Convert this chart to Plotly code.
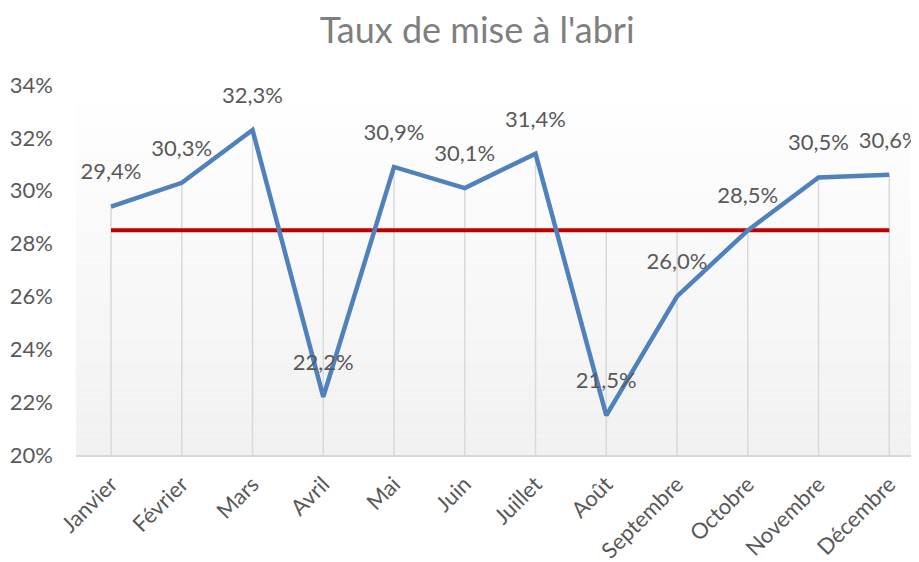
import plotly.graph_objects as go

months = ["Janvier", "Février", "Mars", "Avril", "Mai", "Juin", "Juillet",
          "Août", "Septembre", "Octobre", "Novembre", "Décembre"]
taux = [29.4, 30.3, 32.3, 22.2, 30.9, 30.1, 31.4, 21.5, 26.0, 28.5, 30.5, 30.6]
cible = [28.5] * 12
y_ticks = [20, 22, 24, 26, 28, 30, 32, 34]
y_labels = [f"{v}%" for v in y_ticks]

FONT = "Lato"
fig = go.Figure()

# background gradient (white top -> light gray bottom)
n = 60
y0, y1 = 20, 34
for i in range(n):
    t = i / (n - 1)
    c = int(round(255 - (255 - 241) * (1 - t)))
    fig.add_shape(type="rect", xref="paper", yref="y", x0=0, x1=1,
                  y0=y0 + (y1 - y0) * i / n, y1=y0 + (y1 - y0) * (i + 1) / n,
                  fillcolor=f"rgb({c},{c},{c})", line_width=0, layer="below")

# drop lines from the highest series value to the axis
dx, dy = [], []
for i, m in enumerate(months):
    dx += [m, m, None]
    dy += [max(taux[i], cible[i]), y0, None]
fig.add_trace(go.Scatter(x=dx, y=dy, mode="lines",
                         line=dict(color="#d9d9d9", width=1.5),
                         hoverinfo="skip", showlegend=False))

fig.add_trace(go.Scatter(x=months, y=cible, mode="lines",
                         line=dict(color="#c00000", width=4),
                         showlegend=False))

fig.add_trace(go.Scatter(x=months, y=taux, mode="lines+markers+text",
                         line=dict(color="#4f81bd", width=4.5),
                         marker=dict(size=33, color="rgba(0,0,0,0)"),
                         text=taux, texttemplate="%{y:.1f}%",
                         textposition="top center",
                         textfont=dict(family=FONT, size=22, color="#595959"),
                         cliponaxis=False, showlegend=False))

fig.update_layout(
    width=911, height=554,
    margin=dict(l=68, r=0, t=77, b=107),
    paper_bgcolor="white", plot_bgcolor="white",
    separators=", ",
    title=dict(text="Taux de mise à l'abri", x=0.515, xanchor="center",
               y=0.960, yanchor="middle",
               font=dict(family=FONT, size=36, color="#7f7f7f")),
    xaxis=dict(range=[-0.495, 11.42], showgrid=False, tickangle=-45,
               showline=True, linecolor="#d9d9d9", linewidth=1.5,
               tickfont=dict(family=FONT, size=22, color="#595959"),
               ticks="", ticklabelstandoff=6, automargin=False),
    yaxis=dict(range=[20, 34], tickvals=y_ticks, ticktext=y_labels,
               showgrid=False, zeroline=False, showline=False,
               tickfont=dict(family=FONT, size=22, color="#595959"),
               ticklabelstandoff=22, automargin=False),
)

fig.write_html("out.html")
